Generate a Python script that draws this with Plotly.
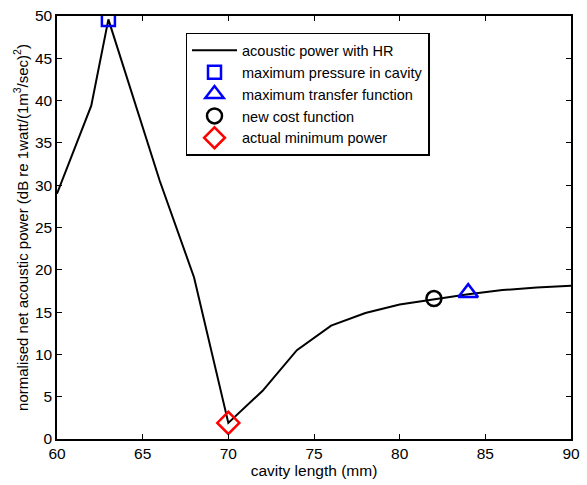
import plotly.graph_objects as go

cavity_length = [60, 62, 63, 66, 68, 70, 72, 74, 76, 78, 80, 82, 84, 86, 88, 90]
power = [29.0, 39.4, 49.6, 30.5, 19.1, 1.9, 5.7, 10.5, 13.4, 14.9, 15.9, 16.5, 17.1, 17.6, 17.9, 18.1]

max_pressure = ([63], [49.6])
max_transfer = ([84], [17.3])
new_cost = ([82], [16.6])
actual_min = ([70], [1.9])

fig = go.Figure()
fig.add_trace(go.Scatter(x=cavity_length, y=power, mode="lines",
                         line=dict(color="black", width=2),
                         name="acoustic power with HR"))
fig.add_trace(go.Scatter(x=max_pressure[0], y=max_pressure[1], mode="markers",
                         marker=dict(symbol="square-open", size=13, color="blue", line=dict(width=2.5)),
                         name="maximum pressure in cavity"))
fig.add_trace(go.Scatter(x=max_transfer[0], y=max_transfer[1], mode="markers",
                         marker=dict(symbol="triangle-up-open", size=17, color="blue", line=dict(width=2.5)),
                         name="maximum transfer function"))
fig.add_trace(go.Scatter(x=new_cost[0], y=new_cost[1], mode="markers",
                         marker=dict(symbol="circle-open", size=15, color="black", line=dict(width=2.5)),
                         name="new cost function"))
fig.add_trace(go.Scatter(x=actual_min[0], y=actual_min[1], mode="markers",
                         marker=dict(symbol="diamond-open", size=17, color="red", line=dict(width=2.5)),
                         name="actual minimum power"))

axis_common = dict(showline=True, linecolor="black", linewidth=1.5, mirror="ticks",
                   ticks="inside", ticklen=5, tickcolor="black", showgrid=False,
                   zeroline=False, tickfont=dict(size=15.5, color="black"))

fig.update_layout(
    width=587, height=485,
    margin=dict(l=57, r=7, t=15, b=46),
    paper_bgcolor="white", plot_bgcolor="white",
    font=dict(family="Liberation Sans, Arial, sans-serif", color="black"),
    xaxis=dict(range=[60, 90], dtick=5,
               title=dict(text="cavity length (mm)", font=dict(size=15.5), standoff=3),
               **axis_common),
    yaxis=dict(range=[0, 50], dtick=5,
               title=dict(text="normalised net acoustic power (dB re 1watt/(1m<sup>3</sup>/sec)<sup>2</sup>)",
                          font=dict(size=15), standoff=3),
               **axis_common),
    legend=dict(x=0.25, y=0.96, xanchor="left", yanchor="top",
                bordercolor="black", borderwidth=1.5, bgcolor="white",
                font=dict(size=14.5), tracegroupgap=0, itemwidth=45),
    showlegend=True,
)

fig.write_html("out.html")
